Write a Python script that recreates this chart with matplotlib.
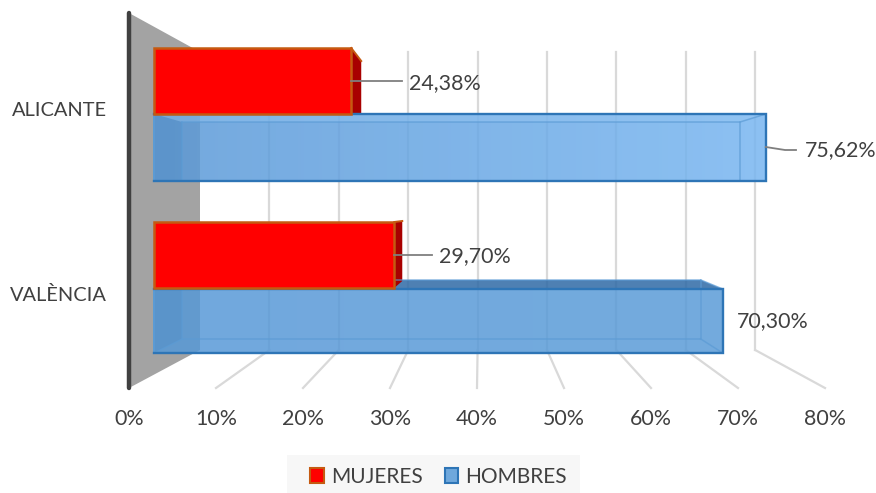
# grafico barras 3D falso: mujeres / hombres por provincia
import numpy as np
import matplotlib
matplotlib.use("Agg")
import matplotlib.pyplot as plt
from matplotlib.patches import Polygon, Patch, Rectangle

plt.rcParams["font.family"] = ["Lato", "DejaVu Sans"]

# ==== Datos ====
provincias = ["ALICANTE", "VALÈNCIA"]
mujeres = [24.38, 29.70]
hombres = [75.62, 70.30]
etiquetas_mujeres = ["24,38%", "29,70%"]
etiquetas_hombres = ["75,62%", "70,30%"]
ticks = [0, 10, 20, 30, 40, 50, 60, 70, 80]

# ==== Geometria en pixeles ====
W, H = 876, 493
FRONT_X0, FRONT_K = 154, 8.09   # plano frontal de las barras
BACK_X0, BACK_K = 182, 7.38     # plano trasero de las barras
WALL_X0, WALL_K = 200, 6.94     # pared del fondo
FLOOR_X0, FLOOR_K = 129, 8.70   # borde frontal del suelo
WALL_TOP, WALL_BOT, FLOOR_Y = 52, 350, 388

GREY_TXT = "#404040"
BLUE_EDGE = "#2E75B6"
RED_EDGE = "#C55A11"
FS = 15.4


def xf(v):
    return FRONT_X0 + FRONT_K * v


def xb(v):
    return BACK_X0 + BACK_K * v


def xw(v):
    return WALL_X0 + WALL_K * v


def xs(v):
    return FLOOR_X0 + FLOOR_K * v


fig = plt.figure(figsize=(W / 100, H / 100), dpi=100)
ax = fig.add_axes([0, 0, 1, 1])

# pared izquierda
ax.add_patch(Polygon([(xs(0), 13), (xw(0), WALL_TOP), (xw(0), WALL_BOT), (xs(0), FLOOR_Y)],
                     fc="#A3A3A3", ec="none", zorder=1))
ax.plot([xs(0), xs(0)], [13, FLOOR_Y], color="#404040", lw=3.2, zorder=2, solid_capstyle="round")

# rejilla
for t in ticks[1:]:
    ax.plot([xw(t), xw(t)], [WALL_TOP, WALL_BOT], color="#D9D9D9", lw=1.6, zorder=1)
    ax.plot([xw(t), xs(t)], [WALL_BOT, FLOOR_Y], color="#D9D9D9", lw=1.6, zorder=1)
for t in ticks:
    ax.text(xs(t), 419, f"{t}%", ha="center", va="center", fontsize=FS, color=GREY_TXT)


def barra_azul(v, y0, y1, yb0, yb1, c0, c1, c_sup, a_sup):
    front = Polygon([(xf(0), y0), (xf(v), y0), (xf(v), y1), (xf(0), y1)], fc="none", ec="none")
    ax.add_patch(front)
    grad = np.linspace(0, 1, 200).reshape(1, -1, 1)
    rgb = np.array(matplotlib.colors.to_rgb(c0)) * (1 - grad) + np.array(matplotlib.colors.to_rgb(c1)) * grad
    rgba = np.dstack([rgb, np.full(grad.shape, 0.85)])
    im = ax.imshow(rgba, extent=[xf(0), xf(v), y1, y0], aspect="auto", zorder=3)
    im.set_clip_path(front)
    # cara superior y lateral izquierda
    ax.add_patch(Polygon([(xf(0), y0), (xf(v), y0), (xb(v), yb0), (xb(0), yb0)],
                         fc=c_sup, alpha=a_sup, ec="none", zorder=3.5))
    ax.add_patch(Polygon([(xf(0), y0), (xb(0), yb0), (xb(0), yb1), (xf(0), y1)],
                         fc="#2E75B6", alpha=0.15, ec="none", zorder=4))
    # aristas interiores
    for seg in ([(xb(0), yb0), (xb(v), yb0), (xb(v), yb1), (xb(0), yb1), (xb(0), yb0)],
                [(xf(v), y0), (xb(v), yb0)], [(xf(v), y1), (xb(v), yb1)],
                [(xf(0), y1), (xb(0), yb1)]):
        seg = np.array(seg)
        ax.plot(seg[:, 0], seg[:, 1], color="#5B9BD5", lw=1.1, alpha=0.7, zorder=4)
    # borde frontal
    ax.plot([xf(0), xf(0)], [y0, y1], color="#5B9BD5", lw=1.4, zorder=5)
    ax.plot([xf(0), xf(v), xf(v), xf(0)], [y0, y0, y1, y1],
            color=BLUE_EDGE, lw=1.7, zorder=5, solid_joinstyle="miter")


def barra_roja(v, y0, y1, dx, dy, y_lat):
    # lateral oscuro y frontal rojo
    ax.add_patch(Polygon([(xf(v), y0), (xf(v) + dx, y0 + dy), (xf(v) + dx, y_lat), (xf(v), y1)],
                         fc="#A80000", ec="none", zorder=3.6))
    ax.plot([xf(v), xf(v) + dx], [y0, y0 + dy], color=RED_EDGE, lw=1.4, zorder=3.7)
    ax.add_patch(Polygon([(xf(0), y0), (xf(v), y0), (xf(v), y1), (xf(0), y1)],
                         fc="#FF0000", ec=RED_EDGE, lw=1.8, zorder=6, joinstyle="miter"))


# ==== Barras ====
barra_roja(mujeres[0], 48, 114, 10, 13, 114)
barra_azul(hombres[0], 114, 181, 122, 181, "#5A99D8", "#78B6F1", "#9CCBF5", 0.35)
barra_azul(hombres[1], 289, 353, 280, 339, "#5799D7", "#5B9CD8", "#2F6AA6", 0.85)
barra_roja(mujeres[1], 222, 288, 8, -1, 281)

# ==== Etiquetas ====
for nom, y in zip(provincias, [110, 295]):
    ax.text(107, y, nom, ha="right", va="center", fontsize=14.4, color=GREY_TXT)

ax.plot([xf(mujeres[0]), 402], [81, 81], color="#7F7F7F", lw=1.3, zorder=7)
ax.text(409, 83, etiquetas_mujeres[0], ha="left", va="center", fontsize=FS, color=GREY_TXT)
ax.plot([xf(hombres[0]), 785, 796], [147, 150, 150], color="#7F7F7F", lw=1.3, zorder=7)
ax.text(805, 150, etiquetas_hombres[0], ha="left", va="center", fontsize=FS, color=GREY_TXT)
ax.plot([xf(mujeres[1]), 432], [255, 255], color="#7F7F7F", lw=1.3, zorder=7)
ax.text(439, 256, etiquetas_mujeres[1], ha="left", va="center", fontsize=FS, color=GREY_TXT)
ax.text(737, 321, etiquetas_hombres[1], ha="left", va="center", fontsize=FS, color=GREY_TXT)

# ==== Leyenda ====
ax.add_patch(Rectangle((287, 455), 293, 38, fc="#F7F7F7", ec="none", zorder=0.5))
handles = [Patch(fc="#FF0000", ec=RED_EDGE, lw=1.5, label="MUJERES"),
           Patch(fc="#6FA8DC", ec=BLUE_EDGE, lw=1.5, label="HOMBRES")]
ax.legend(handles=handles, loc="center", bbox_to_anchor=(438.5, 477), bbox_transform=ax.transData,
          ncol=2, frameon=False, fontsize=15, labelcolor=GREY_TXT, handlelength=0.65, handleheight=0.7,
          handletextpad=0.33, columnspacing=1.05, borderpad=0)

ax.set_xlim(0, W)
ax.set_ylim(H, 0)
ax.axis("off")

fig.savefig("out.png", dpi=100)
